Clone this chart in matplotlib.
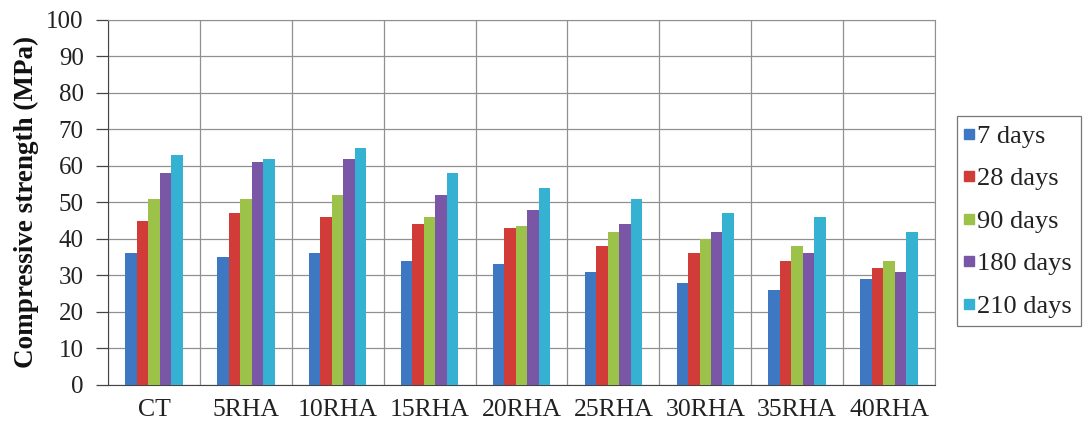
import numpy as np
import matplotlib.pyplot as plt
from matplotlib.lines import Line2D

plt.rcParams['font.family'] = ['Liberation Serif', 'DejaVu Serif']

mixes = ['CT', '5RHA', '10RHA', '15RHA', '20RHA', '25RHA', '30RHA', '35RHA', '40RHA']
ages = ['7 days', '28 days', '90 days', '180 days', '210 days']

d7 = [36, 35, 36, 34, 33, 31, 28, 26, 29]
d28 = [45, 47, 46, 44, 43, 38, 36, 34, 32]
d90 = [51, 51, 52, 46, 43.5, 42, 40, 38, 34]
d180 = [58, 61, 62, 52, 48, 44, 42, 36, 31]
d210 = [63, 62, 65, 58, 54, 51, 47, 46, 42]
series = [d7, d28, d90, d180, d210]

colors = ['#3f78c2', '#d23c38', '#9cc24a', '#7a56a6', '#35b1d2']

fig = plt.figure(figsize=(10.91, 4.32), dpi=100)
ax = fig.add_axes([0.099, 0.109, 0.758, 0.845])

x = np.arange(len(mixes))
w = 0.125
for i, vals in enumerate(series):
    ax.bar(x + (i - 2) * w, vals, width=w, color=colors[i], label=ages[i], zorder=3)

ax.set_xlim(-0.5, len(mixes) - 0.5)
ax.set_ylim(0, 100)
ax.set_yticks(range(0, 101, 10))
ax.set_xticks(x)
ax.set_xticklabels(mixes)
ax.set_xticks(np.arange(-0.5, len(mixes)), minor=True)
ax.grid(True, which='major', axis='y', color='#909090', linewidth=0.9, zorder=0)
ax.grid(True, which='minor', axis='x', color='#909090', linewidth=0.9, zorder=0)
ax.tick_params(axis='x', which='both', length=0, labelsize=18.5, pad=10, colors='#222222')
ax.tick_params(axis='y', length=8.5, width=0.9, labelsize=18, pad=9, direction='out',
               colors='#444444', labelcolor='#222222')
for s in ['top', 'right']:
    ax.spines[s].set_color('#909090')
for s in ['left', 'bottom']:
    ax.spines[s].set_color('#444444')
ax.set_ylabel('Compressive strength (MPa)', fontsize=19.5, fontweight='bold', labelpad=5,
              color='#111111')

# square legend keys like the spreadsheet original
handles = [Line2D([], [], linestyle='none', marker='s', markersize=6.5,
                  markerfacecolor=c, markeredgecolor=c) for c in colors]
leg = fig.legend(handles, ages, loc='center left', bbox_to_anchor=(957 / 1091, 0.488),
                 fontsize=19, handlelength=0.3, handletextpad=0.15,
                 labelspacing=0.72, frameon=True, fancybox=False, borderpad=0.32,
                 borderaxespad=0)
leg.get_frame().set_edgecolor('#555555')
leg.get_frame().set_linewidth(0.9)
for t in leg.get_texts():
    t.set_color('#222222')

fig.savefig('out.png', dpi=100)
